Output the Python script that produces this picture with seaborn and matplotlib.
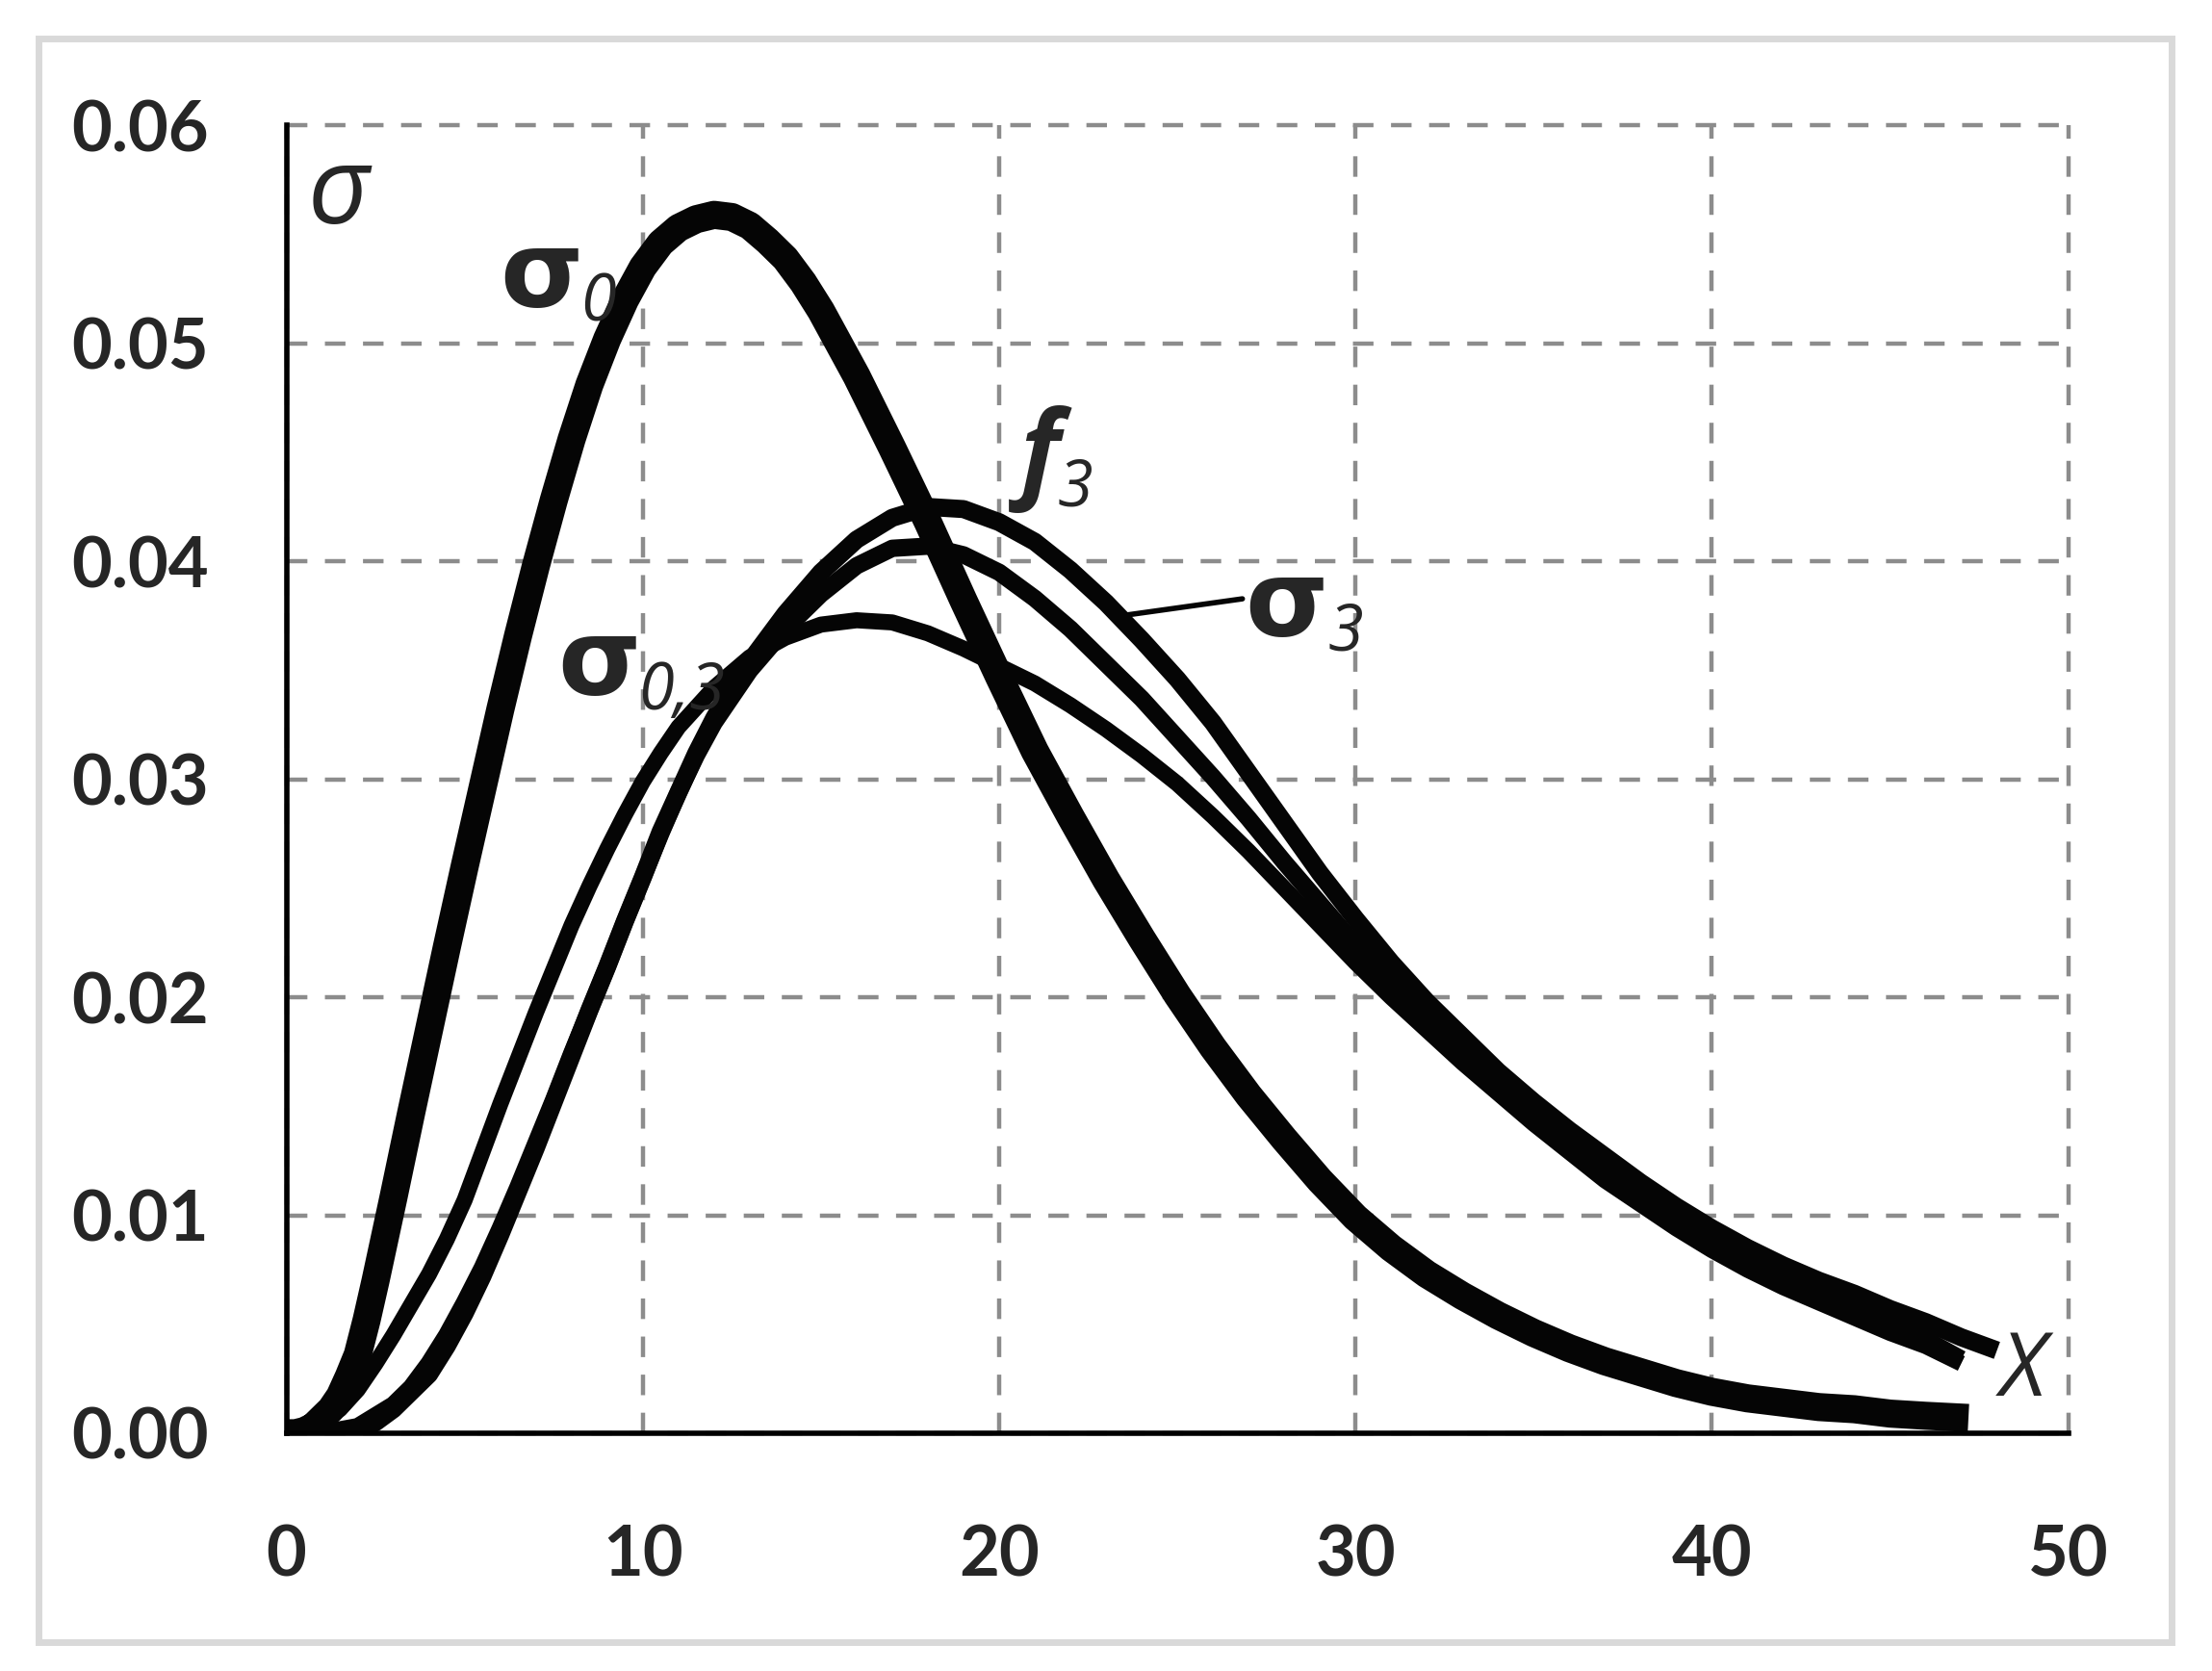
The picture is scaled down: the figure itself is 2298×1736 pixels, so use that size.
import matplotlib
matplotlib.use("Agg")
import matplotlib.pyplot as plt
from matplotlib.patches import Rectangle
import pandas as pd
import seaborn as sns

# Curve values (x, stress)
sigma0_x = [0, 0.25, 0.5, 0.75, 1, 1.25, 1.5, 1.75, 2, 2.25,
            2.5, 2.75, 3, 3.5, 4, 4.5, 5, 5.5, 6, 6.5,
            7, 7.5, 8, 8.5, 9, 9.5, 10, 10.5, 11, 11.5,
            12, 12.5, 13, 13.5, 14, 14.5, 15, 16, 17, 18,
            19, 20, 21, 22, 23, 24, 25, 26, 27, 28,
            29, 30, 31, 32, 33, 34, 35, 36, 37, 38,
            39, 40, 41, 42, 43, 44, 45, 46, 47.2]
sigma0_y = [0, 0.0000, 0.0001, 0.0003, 0.0007, 0.0011, 0.0017, 0.0026, 0.0036, 0.0052,
            0.0070, 0.0089, 0.0108, 0.0147, 0.0185, 0.0223, 0.0260, 0.0296, 0.0332, 0.0366,
            0.0398, 0.0428, 0.0456, 0.0481, 0.0502, 0.0520, 0.0535, 0.0546, 0.0553, 0.0557,
            0.0559, 0.0558, 0.0554, 0.0547, 0.0539, 0.0528, 0.0515, 0.0485, 0.0452, 0.0418,
            0.0382, 0.0347, 0.0313, 0.0283, 0.0254, 0.0227, 0.0201, 0.0177, 0.0155, 0.0135,
            0.0116, 0.0099, 0.0085, 0.0073, 0.0063, 0.0054, 0.0046, 0.0039, 0.0033, 0.0028,
            0.0023, 0.0019, 0.0016, 0.0014, 0.0012, 0.0011, 0.0009, 0.0008, 0.0007]

sigma03_x = [0, 0.5, 1, 1.5, 2, 2.5, 3, 3.5, 4, 4.5,
             5, 5.5, 6, 6.5, 7, 7.5, 8, 8.5, 9, 9.5,
             10, 10.5, 11, 12, 13, 14, 15, 16, 17, 18,
             19, 20, 21, 22, 23, 24, 25, 26, 27, 28,
             29, 30, 31, 32, 33, 34, 35, 36, 37, 38,
             39, 40, 41, 42, 43, 44, 45, 46, 47]
sigma03_y = [0, 0.0001, 0.0005, 0.0011, 0.0020, 0.0032, 0.0045, 0.0059, 0.0073, 0.0089,
             0.0107, 0.0129, 0.0151, 0.0172, 0.0193, 0.0213, 0.0233, 0.0251, 0.0268, 0.0284,
             0.0299, 0.0312, 0.0324, 0.0342, 0.0356, 0.0365, 0.0371, 0.0373, 0.0372, 0.0367,
             0.0360, 0.0352, 0.0344, 0.0334, 0.0323, 0.0311, 0.0298, 0.0283, 0.0267, 0.0250,
             0.0233, 0.0216, 0.0200, 0.0185, 0.0170, 0.0156, 0.0142, 0.0129, 0.0116, 0.0105,
             0.0094, 0.0084, 0.0075, 0.0067, 0.0060, 0.0053, 0.0046, 0.0040, 0.0032]

sigma3_x = [0, 1, 2, 3, 3.5, 4, 4.5, 5, 5.5, 6,
            6.5, 7, 7.5, 8, 8.5, 9, 9.5, 10, 10.5, 11,
            11.5, 12, 13, 14, 15, 16, 17, 18, 19, 20,
            21, 22, 23, 24, 25, 26, 27, 28, 29, 30,
            31, 32, 33, 34, 35, 36, 37, 38, 39, 40,
            41, 42, 43, 44, 45, 46, 47]
sigma3_y = [0, 0, 0.0003, 0.0013, 0.0021, 0.0032, 0.0045, 0.0060, 0.0076, 0.0094,
            0.0113, 0.0133, 0.0153, 0.0174, 0.0194, 0.0214, 0.0235, 0.0255, 0.0275, 0.0294,
            0.0311, 0.0326, 0.0350, 0.0369, 0.0385, 0.0398, 0.0406, 0.0407, 0.0403, 0.0395,
            0.0383, 0.0369, 0.0353, 0.0337, 0.0319, 0.0301, 0.0282, 0.0262, 0.0243, 0.0224,
            0.0206, 0.0189, 0.0173, 0.0158, 0.0145, 0.0132, 0.0120, 0.0109, 0.0099, 0.0089,
            0.0080, 0.0072, 0.0064, 0.0057, 0.0050, 0.0043, 0.0034]

f3_x = [0, 1, 2, 2.5, 3, 3.5, 4, 4.5, 5, 5.5,
        6, 6.5, 7, 7.5, 8, 8.5, 9, 9.5, 10, 10.5,
        11, 11.5, 12, 12.5, 13, 14, 15, 16, 17, 18,
        19, 20, 21, 22, 23, 24, 25, 26, 27, 28,
        29, 30, 31, 32, 33, 34, 35, 36, 37, 38,
        39, 40, 41, 42, 43, 44, 45, 46, 47, 48]
f3_y = [0, 0, 0.0001, 0.0005, 0.0011, 0.0019, 0.0027, 0.0040, 0.0055, 0.0072,
        0.0091, 0.0111, 0.0131, 0.0152, 0.0173, 0.0194, 0.0214, 0.0235, 0.0255, 0.0276,
        0.0294, 0.0312, 0.0328, 0.0342, 0.0354, 0.0376, 0.0395, 0.0410, 0.0420, 0.0425,
        0.0424, 0.0418, 0.0409, 0.0396, 0.0381, 0.0364, 0.0346, 0.0326, 0.0303, 0.0280,
        0.0257, 0.0236, 0.0216, 0.0198, 0.0182, 0.0166, 0.0152, 0.0139, 0.0127, 0.0115,
        0.0104, 0.0094, 0.0085, 0.0077, 0.0070, 0.0064, 0.0057, 0.0051, 0.0044, 0.0038]

x_ticks = [0, 10, 20, 30, 40, 50]
y_ticks = [0.00, 0.01, 0.02, 0.03, 0.04, 0.05, 0.06]

sns.set_style("white")
plt.rcParams["font.family"] = ["Lato", "DejaVu Sans"]

fig = plt.figure(figsize=(22.98, 17.36), dpi=100)
ax = fig.add_axes([0.1295, 0.1423, 0.8055, 0.7826])

# Outer light frame
fig.patches.append(Rectangle((40 / 2298, 1 - 1706 / 1736), 2216 / 2298, 1666 / 1736,
                             transform=fig.transFigure, fill=False,
                             edgecolor="#d9d9d9", lw=5))

curves = [(sigma03_x, sigma03_y, 12), (sigma3_x, sigma3_y, 13),
          (f3_x, f3_y, 13.5), (sigma0_x, sigma0_y, 21)]
for xs, ys, lw in curves:
    df = pd.DataFrame({"x": xs, "y": ys})
    sns.lineplot(data=df, x="x", y="y", ax=ax, color="#050505", linewidth=lw,
                 sort=False, estimator=None, solid_capstyle="butt",
                 solid_joinstyle="round", zorder=3)

# Axes, grid, ticks
ax.set_xlim(0, 50)
ax.set_ylim(0, 0.06)
ax.set_xticks(x_ticks)
ax.set_yticks(y_ticks)
ax.set_xticklabels([str(v) for v in x_ticks])
ax.set_yticklabels([f"{v:.2f}" for v in y_ticks])
ax.grid(True, color="#8c8c8c", linestyle=(0, (4.8, 4.1)), linewidth=3.2)
for gl in ax.get_xgridlines() + ax.get_ygridlines():
    gl.set_clip_on(False)
ax.spines["top"].set_visible(False)
ax.spines["right"].set_visible(False)
for side in ["left", "bottom"]:
    ax.spines[side].set_linewidth(4)
    ax.spines[side].set_color("black")
    ax.spines[side].set_zorder(4)
ax.tick_params(axis="both", length=0, labelsize=52)
ax.tick_params(axis="x", pad=68)
ax.tick_params(axis="y", pad=58)
for lab in ax.get_xticklabels() + ax.get_yticklabels():
    lab.set_fontweight("bold")
ax.set_xlabel("")
ax.set_ylabel("")

# Curve labels
greek = ["DejaVu Sans"]
sub_family = ["Open Sans", "DejaVu Sans"]


def add_label(x, y, main, sub, main_kw, sub_size=48, dx=-2, dy=-6):
    t = ax.text(x, y, main, ha="left", va="baseline", zorder=5, **main_kw)
    ax.annotate(sub, xy=(1, 0), xycoords=t, xytext=(dx, dy), textcoords="offset points",
                ha="left", va="bottom", family=sub_family, style="italic",
                fontsize=sub_size, zorder=5)


add_label(6.0, 0.0517, "σ", "0", dict(fontsize=80, fontweight="bold", family=greek))
add_label(7.6, 0.0339, "σ", "0,3", dict(fontsize=80, fontweight="bold", family=greek))
add_label(20.6, 0.0434, "f", "3", dict(fontsize=80, fontweight="bold", style="italic",
                                       family=sub_family))
add_label(26.9, 0.0366, "σ", "3", dict(fontsize=80, fontweight="bold", family=greek),
          dx=0)
ax.annotate("", xy=(23.4, 0.0375), xytext=(26.9, 0.0383),
            arrowprops=dict(arrowstyle="-", color="#050505", lw=4))

ax.text(0.6, 0.0555, "σ", ha="left", va="baseline", family=sub_family, style="italic",
        fontsize=80, zorder=5)
ax.text(48.1, 0.0017, "X", ha="left", va="baseline", family=sub_family, style="italic",
        fontsize=66, zorder=5)

fig.savefig("out.png", dpi=100)
